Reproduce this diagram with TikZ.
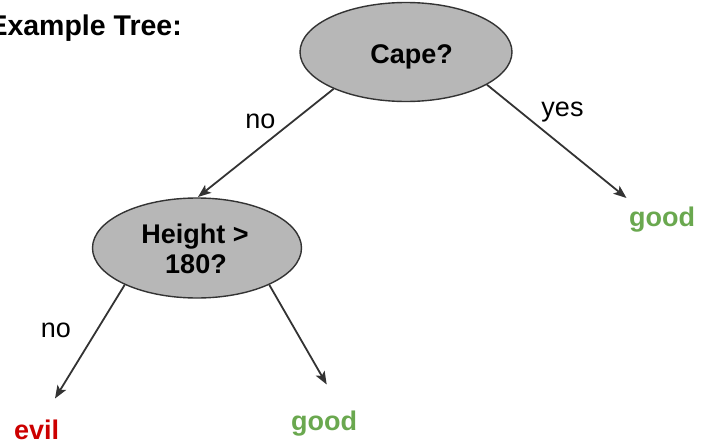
\documentclass[tikz,border=0pt]{standalone}
\usepackage{fontspec}
\setmainfont{Liberation Sans}
\usetikzlibrary{shapes.geometric,arrows.meta}
\definecolor{nodefill}{HTML}{B7B7B7}
\definecolor{edgecol}{HTML}{333333}
\definecolor{evilred}{HTML}{CC0000}
\definecolor{goodgreen}{HTML}{6AA84F}
\tikzset{
  txt/.style={inner sep=0pt, anchor=base, font=\fontsize{27}{31}\selectfont},
  bold/.style={txt, font=\fontsize{27}{31}\selectfont\bfseries},
  question/.style={ellipse, draw=edgecol, line width=1.4pt, fill=nodefill, inner sep=0pt},
  branch/.style={draw=edgecol, line width=1.8pt, -{Stealth[length=13pt,width=10pt,inset=3pt]}}
}
\begin{document}
\begin{tikzpicture}[x=1pt,y=-1pt]
  \useasboundingbox (0,0) rectangle (705,447);

  % title
  \node[bold, anchor=base east, font=\fontsize{28.5}{32}\selectfont\bfseries] (title) at (182,35.5) {Example Tree:};

  % decision nodes
  \node[question, minimum width=212pt, minimum height=99pt] (cape) at (406,52) {};
  \node[question, minimum width=209pt, minimum height=100pt] (height) at (197,248) {};
  \node[bold] (capetxt) at (411.7,63) {Cape?};
  \node[bold] (htxt1) at (195,243.3) {Height >};
  \node[bold] (htxt2) at (196,273.5) {180?};

  % leaves
  \node[bold, text=goodgreen] (good1) at (662,226.7) {good};
  \node[bold, text=evilred] (evil) at (36.7,439) {evil};
  \node[bold, text=goodgreen] (good2) at (324,430) {good};

  % arrow tips above the leaves
  \coordinate (tipH) at (198,197);
  \coordinate (tipG1) at (626.5,198);
  \coordinate (tipE) at (55,398.5);
  \coordinate (tipG2) at (326.7,384.5);

  % branches
  \draw[branch] (cape.207) -- (tipH);
  \draw[branch] (cape.338) -- (tipG1);
  \draw[branch] (height.207.2) -- (tipE);
  \draw[branch] (height.333.7) -- (tipG2);

  % branch labels
  \node[txt] (no1) at (260.5,128.3) {no};
  \node[txt] (yes) at (562.5,116.7) {yes};
  \node[txt] (no2) at (56,337) {no};
\end{tikzpicture}
\end{document}
